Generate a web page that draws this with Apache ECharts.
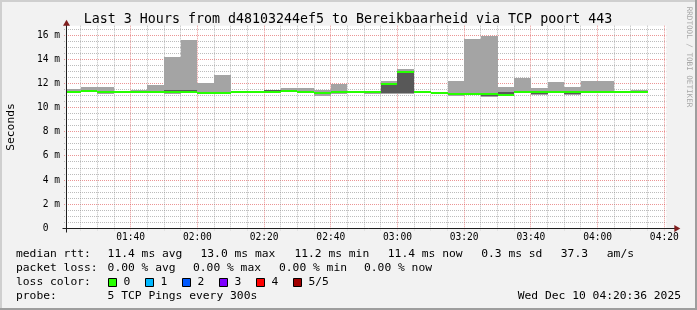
<!DOCTYPE html>
<html><head><meta charset="utf-8">
<script src="https://cdn.jsdelivr.net/npm/echarts@6/dist/echarts.min.js"></script>
<style>html,body{margin:0;padding:0;background:#f2f2f2}#c{width:697px;height:310px}</style>
</head><body><div id="c"></div>
<script>
// ---- data (ms) ----
const binStarts = ['01:20','01:25','01:30','01:35','01:40','01:45','01:50','01:55','02:00','02:05','02:10','02:15','02:20','02:25','02:30','02:35','02:40','02:45','02:50','02:55','03:00','03:05','03:10','03:15','03:20','03:25','03:30','03:35','03:40','03:45','03:50','03:55','04:00','04:05','04:10'];
const pingMin = [11.25,11.28,11.17,11.22,11.22,11.20,11.10,11.20,11.20,11.20,11.20,11.28,11.22,11.30,11.22,10.96,11.10,11.25,11.17,11.17,11.15,11.22,11.20,11.00,11.05,10.90,10.93,11.25,11.07,11.22,11.07,11.20,11.22,11.27,11.22];
const ping2   = [11.27,11.33,11.20,11.25,11.24,11.23,11.25,11.25,11.22,11.22,11.23,11.30,11.25,11.32,11.25,11.10,11.25,11.28,11.20,11.20,11.20,11.24,11.22,11.05,11.07,10.93,10.96,11.28,11.15,11.25,11.15,11.23,11.25,11.28,11.24];
const median  = [11.30,11.40,11.27,11.27,11.27,11.27,11.32,11.30,11.25,11.25,11.27,11.32,11.30,11.35,11.28,11.24,11.32,11.30,11.27,11.97,13.00,11.27,11.25,11.15,11.10,11.10,11.05,11.32,11.30,11.30,11.27,11.27,11.30,11.30,11.27];
const ping4   = [11.33,11.45,11.30,11.30,11.30,11.30,11.45,11.46,11.30,11.30,11.30,11.34,11.45,11.40,11.32,11.30,11.35,11.32,11.36,12.07,13.05,11.30,11.28,11.20,11.15,11.15,11.30,11.36,11.33,11.33,11.30,11.30,11.33,11.32,11.32];
const pingMax = [11.54,11.68,11.74,11.40,11.46,11.90,14.23,15.61,12.04,12.73,11.40,11.35,11.46,11.65,11.65,11.43,11.96,11.33,11.37,12.24,13.20,11.32,11.30,12.20,15.70,15.97,11.70,12.46,11.63,12.13,11.71,12.23,12.23,11.33,11.46];
const xTickLabels = ['01:40','02:00','02:20','02:40','03:00','03:20','03:40','04:00','04:20'];
const yTickValues = [0,2,4,6,8,10,12,14,16];
const rangeStart = '01:20:36', rangeEnd = '04:20:36';
const stepMinutes = 5;

function toMin(s){const p=s.split(':').map(Number);return p[0]*60+p[1]+(p[2]||0)/60;}
function fmt(m){m=Math.round(m);const h=Math.floor(m/60),mm=m%60;return String(h).padStart(2,'0')+':'+String(mm).padStart(2,'0');}
const xMin = toMin(rangeStart), xMax = toMin(rangeEnd);
const yMax = 16.8;

const binData = binStarts.map((s,i)=>[toMin(s), toMin(s)+stepMinutes, pingMin[i], ping2[i], median[i], ping4[i], pingMax[i]]);

// grid line definitions: [orient(0=h,1=v), value, major]
const gridData = [];
const majorX = xTickLabels.map(toMin);
for (let v = 0.5; v < yMax; v += 0.5) { if (v % 2 !== 0) gridData.push([0, v, 0]); }
yTickValues.forEach(v => { if (v > 0) gridData.push([0, v, 1]); });
for (let m = Math.ceil(xMin/stepMinutes)*stepMinutes; m <= xMax; m += stepMinutes) { if (majorX.indexOf(m) < 0) gridData.push([1, m, 0]); }
majorX.forEach(m => gridData.push([1, m, 1]));

const MONO = '"DejaVu Sans Mono", monospace';
const chart = echarts.init(document.getElementById('c'), null, {renderer:'canvas'});

function crisp(v){return Math.round(v)+0.5;}

const option = {
  animation: false,
  backgroundColor: '#f2f2f2',
  grid: { left: 66, top: 25.7, width: 600.3, height: 202.6, show: true, backgroundColor: '#ffffff', borderWidth: 0 },
  xAxis: {
    type: 'value', min: xMin, max: xMax, splitNumber: 9,
    axisLine: { show: false }, axisTick: { show: false }, splitLine: { show: false },
    axisLabel: { margin: 4.6, color: '#000', fontFamily: MONO, fontSize: 9.6,
      formatter: v => { const r = Math.round(v); return (Math.abs(v-r) < 1e-6 && r % 20 === 0) ? fmt(r) : ''; } }
  },
  yAxis: {
    type: 'value', min: 0, max: yMax, interval: 2,
    axisLine: { show: false }, axisTick: { show: false }, splitLine: { show: false },
    axisLabel: { margin: 6, color: '#000', fontFamily: MONO, fontSize: 9.6,
      formatter: v => { if (v === 0) return '0  '; return (yTickValues.indexOf(v) >= 0) ? v + ' m' : ''; } }
  },
  series: [
    { type: 'custom', name: 'grid', z: 1, silent: true, data: gridData,
      renderItem: (params, api) => {
        const cs = params.coordSys;
        const o = api.value(0), v = api.value(1), major = api.value(2);
        const color = major ? 'rgba(222,79,79,0.6)' : 'rgba(143,143,143,0.6)';
        if (o === 0) {
          const y = crisp(api.coord([xMin, v])[1] - 0.5);
          return { type: 'line', shape: { x1: cs.x - 2, y1: y, x2: cs.x + cs.width, y2: y }, style: { stroke: color, lineWidth: 1, lineDash: [1,1] } };
        }
        const x = crisp(api.coord([v, 0])[0] - 0.5);
        return { type: 'line', shape: { x1: x, y1: cs.y, x2: x, y2: cs.y + cs.height + 2 }, style: { stroke: color, lineWidth: 1, lineDash: [1,1] } };
      }
    },
    { type: 'custom', name: 'smoke', z: 2, silent: true, data: binData,
      renderItem: (params, api) => {
        const cs = params.coordSys;
        let x0 = Math.round(api.coord([api.value(0), 0])[0]);
        const x1 = Math.round(api.coord([api.value(1), 0])[0]);
        x0 = Math.max(x0, Math.round(cs.x));
        const Y = i => api.coord([xMin, api.value(i)])[1];
        const y1 = Math.round(Y(2)), y2 = Math.round(Y(3)), ym = Y(4), y4 = Math.round(Y(5)), y5 = Math.round(Y(6));
        const w = x1 - x0;
        return { type: 'group', children: [
          { type: 'rect', shape: { x: x0, y: y5, width: w, height: Math.max(y1 - y5, 1) }, style: { fill: '#a4a4a4' } },
          { type: 'rect', shape: { x: x0, y: y4, width: w, height: Math.max(y2 - y4, 1) }, style: { fill: '#585858' } },
          { type: 'rect', shape: { x: x0, y: Math.round(ym - 1), width: w, height: 2 }, style: { fill: '#26ff00' } }
        ]};
      }
    }
  ]
};
chart.setOption(option);

// axes, arrows and texts
const O = chart.convertToPixel({gridIndex:0}, [xMin, 0]);
const E = chart.convertToPixel({gridIndex:0}, [xMax, yMax]);
const ox = Math.round(O[0]) + 0.5, oy = Math.round(O[1]) + 0.5;
const AX = '#1f1f1f', ARR = '#801f1f';
const T = (text, x, y, opt={}) => Object.assign({ type: 'text', silent: true, z: 10, style: Object.assign({ text, x, y, fill: '#000', font: '11.3px ' + MONO, verticalAlign: 'middle', align: 'left' }, opt) });
const legendColors = [['0','#26ff00'],['1','#00b8ff'],['2','#0059ff'],['3','#7e00ff'],['4','#ff0000'],['5/5','#a10000']];
const boxX = [108, 145, 182, 219, 256, 293];
const els = [
  // frame
  { type: 'rect', shape: { x: 0, y: 0, width: 697, height: 2 }, style: { fill: '#cfcfcf' }, silent: true },
  { type: 'rect', shape: { x: 0, y: 0, width: 2, height: 310 }, style: { fill: '#cfcfcf' }, silent: true },
  { type: 'rect', shape: { x: 0, y: 308, width: 697, height: 2 }, style: { fill: '#9e9e9e' }, silent: true },
  { type: 'rect', shape: { x: 695, y: 0, width: 2, height: 310 }, style: { fill: '#9e9e9e' }, silent: true },
  // axes
  { type: 'line', z: 5, silent: true, shape: { x1: ox - 4, y1: oy, x2: E[0] + 9, y2: oy }, style: { stroke: AX, lineWidth: 1 } },
  { type: 'line', z: 5, silent: true, shape: { x1: ox, y1: oy + 4, x2: ox, y2: E[1] - 3 }, style: { stroke: AX, lineWidth: 1 } },
  { type: 'polygon', z: 6, silent: true, shape: { points: [[E[0] + 8, oy - 3.5], [E[0] + 14, oy], [E[0] + 8, oy + 3.5]] }, style: { fill: ARR } },
  { type: 'polygon', z: 6, silent: true, shape: { points: [[ox - 3.5, E[1] - 0], [ox, E[1] - 6], [ox + 3.5, E[1] - 0]] }, style: { fill: ARR } },
  // title etc
  T('Last 3 Hours from d48103244ef5 to Bereikbaarheid via TCP poort 443', 348, 20, { align: 'center', font: '13.3px ' + MONO }),
  Object.assign(T('Seconds', 0, 0, { align: 'center', font: '11.3px ' + MONO }), { x: 11, y: 127, rotation: Math.PI / 2 }),
  Object.assign(T('RRDTOOL / TOBI OETIKER', 0, 0, { align: 'center', font: '7.6px ' + MONO, fill: '#a8a8a8' }), { x: 689, y: 57, rotation: -Math.PI / 2 }),
  // legend rows
  T('median rtt:', 16, 254.5), T('11.4 ms avg', 107.6, 254.5), T('13.0 ms max', 200.5, 254.5), T('11.2 ms min', 294.4, 254.5),
  T('11.4 ms now', 387.8, 254.5), T('0.3 ms sd', 481.2, 254.5), T('37.3', 560.8, 254.5), T('am/s', 606.8, 254.5),
  T('packet loss:', 16, 268.3), T('0.00 % avg', 107.6, 268.3), T('0.00 % max', 193, 268.3), T('0.00 % min', 279, 268.3), T('0.00 % now', 364, 268.3),
  T('loss color:', 16, 282.3),
  T('probe:', 16, 296), T('5 TCP Pings every 300s', 107.6, 296), T('Wed Dec 10 04:20:36 2025', 681, 296, { align: 'right' })
];
legendColors.forEach((c, i) => {
  els.push({ type: 'rect', silent: true, z: 10, shape: { x: boxX[i] + 0.5, y: 278.5, width: 8, height: 8 }, style: { fill: c[1], stroke: '#000', lineWidth: 1 } });
  els.push(T(c[0], boxX[i] + 15.5, 282.3));
});
chart.setOption({ graphic: { elements: els } });
</script></body></html>
